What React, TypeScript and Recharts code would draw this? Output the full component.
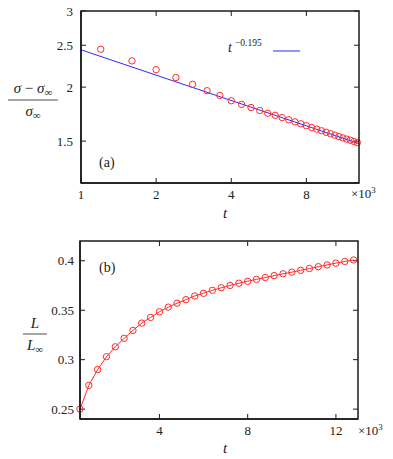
import React from "react";
import { ComposedChart, Line, Scatter, XAxis, YAxis } from "recharts";

// panel (a): relaxation of sigma, log-log
const TOP_T = [1.2, 1.6, 2.0, 2.4, 2.8, 3.2, 3.6, 4.0, 4.4, 4.8, 5.2, 5.6, 6.0, 6.4, 6.8, 7.2, 7.6, 8.0, 8.4, 8.8, 9.2, 9.6, 10.0, 10.4, 10.8, 11.2, 11.6, 12.0, 12.4, 12.8];
const TOP_SIGMA = [2.447, 2.3, 2.195, 2.105, 2.03, 1.962, 1.913, 1.86, 1.824, 1.794, 1.766, 1.74, 1.721, 1.7, 1.681, 1.662, 1.645, 1.629, 1.613, 1.599, 1.585, 1.572, 1.56, 1.548, 1.537, 1.526, 1.516, 1.507, 1.497, 1.488];
const FIT_T = [1, 13];
const FIT_SIGMA = [2.44, 1.48];
const TOP_XDOMAIN = [1, 13];
const TOP_YDOMAIN = [1.2, 3];
const TOP_XTICKS = [1, 2, 4, 8];
const TOP_YTICKS = [1.5, 2, 2.5, 3];

// panel (b): growth of L
const BOT_T = [0.4, 0.8, 1.2, 1.6, 2.0, 2.4, 2.8, 3.2, 3.6, 4.0, 4.4, 4.8, 5.2, 5.6, 6.0, 6.4, 6.8, 7.2, 7.6, 8.0, 8.4, 8.8, 9.2, 9.6, 10.0, 10.4, 10.8, 11.2, 11.6, 12.0, 12.4, 12.8];
const BOT_L = [0.25, 0.274, 0.29, 0.303, 0.313, 0.3216, 0.3296, 0.337, 0.3427, 0.3484, 0.3531, 0.3571, 0.3607, 0.3644, 0.3671, 0.3701, 0.3727, 0.3751, 0.3773, 0.3793, 0.3812, 0.3831, 0.385, 0.3868, 0.3885, 0.3903, 0.3922, 0.394, 0.3958, 0.3976, 0.3993, 0.4008];
const BOT_XDOMAIN = [0.4, 13];
const BOT_YDOMAIN = [0.24, 0.42];
const BOT_XTICKS = [4, 8, 12];
const BOT_YTICKS = [0.25, 0.3, 0.35, 0.4];

const topData = TOP_T.map((t, i) => ({ t, v: TOP_SIGMA[i] }));
const fitData = FIT_T.map((t, i) => ({ t, v: FIT_SIGMA[i] }));
const botData = BOT_T.map((t, i) => ({ t, v: BOT_L[i] }));

// mirrored ticks on the top and right edges, placed through the chart scales
const topTickPts = (ticks: number[], yd: number[]) => ticks.map((t) => ({ t, v: yd[1] }));
const rightTickPts = (ticks: number[], xd: number[]) => ticks.map((v) => ({ t: xd[1], v }));
const topTicksA = topTickPts(TOP_XTICKS, TOP_YDOMAIN);
const rightTicksA = rightTickPts(TOP_YTICKS, TOP_XDOMAIN);
const topTicksB = topTickPts(BOT_XTICKS, BOT_YDOMAIN);
const rightTicksB = rightTickPts(BOT_YTICKS, BOT_XDOMAIN);

const FRAME = "#1a1a1a";
const RED = "#ff2a2a";
const BLUE = "#2a2aff";
const SERIF = "'Liberation Serif', 'Times New Roman', serif";
const tickStyle = { fontSize: 13, fontFamily: SERIF, fill: "#222" };
const axisLine = { stroke: FRAME, strokeWidth: 1.5 };
const tickLine = { stroke: FRAME, strokeWidth: 1 };

// plot boxes (layout, from the chart margins and axis sizes)
const BOX_A = { x: 81, y: 11, w: 278, h: 172 };
const BOX_B = { x: 80, y: 241, w: 278, h: 178 };

const ring = (p: any) => <circle cx={p.cx} cy={p.cy} r={3.2} fill="none" stroke={RED} strokeWidth={1} />;
const downTick = (p: any) => <path d={`M${p.cx},${p.cy}v5`} stroke={FRAME} strokeWidth={1} fill="none" />;
const leftTick = (p: any) => <path d={`M${p.cx},${p.cy}h-5`} stroke={FRAME} strokeWidth={1} fill="none" />;

const boxPath = (b: { x: number; y: number; w: number; h: number }) =>
  `M${b.x},${b.y + b.h}V${b.y}H${b.x + b.w}V${b.y + b.h}Z`;

export default function App() {
  return (
    <div style={{ position: "absolute", left: 0, top: 0, width: 393, height: 459, background: "white" }}>
      <div style={{ position: "absolute", left: 0, top: 0 }}>
        <ComposedChart width={393} height={230} margin={{ top: 11, right: 34, bottom: 0, left: 0 }}>
          <XAxis dataKey="t" type="number" scale="log" domain={TOP_XDOMAIN} ticks={TOP_XTICKS}
            height={47} tickSize={-5} tickMargin={12} tick={tickStyle} axisLine={axisLine} tickLine={tickLine} />
          <YAxis dataKey="v" type="number" scale="log" domain={TOP_YDOMAIN} ticks={TOP_YTICKS}
            width={81} tickSize={-5} tickMargin={13} tick={tickStyle} axisLine={axisLine} tickLine={tickLine} />
          <Scatter data={topTicksA} dataKey="v" shape={downTick} isAnimationActive={false} />
          <Scatter data={rightTicksA} dataKey="v" shape={leftTick} isAnimationActive={false} />
          <Line data={fitData} dataKey="v" stroke={BLUE} strokeWidth={1} dot={false} isAnimationActive={false} />
          <Scatter data={topData} dataKey="v" shape={ring} isAnimationActive={false} />
        </ComposedChart>
      </div>
      <div style={{ position: "absolute", left: 0, top: 230 }}>
        <ComposedChart width={393} height={229} margin={{ top: 11, right: 35, bottom: 0, left: 0 }}>
          <XAxis dataKey="t" type="number" domain={BOT_XDOMAIN} ticks={BOT_XTICKS}
            height={40} tickSize={-5} tickMargin={12} tick={tickStyle} axisLine={axisLine} tickLine={tickLine} />
          <YAxis dataKey="v" type="number" domain={BOT_YDOMAIN} ticks={BOT_YTICKS}
            width={80} tickSize={-5} tickMargin={11} tick={tickStyle} axisLine={axisLine} tickLine={tickLine} />
          <Scatter data={topTicksB} dataKey="v" shape={downTick} isAnimationActive={false} />
          <Scatter data={rightTicksB} dataKey="v" shape={leftTick} isAnimationActive={false} />
          <Line data={botData} dataKey="v" stroke={RED} strokeWidth={1}
            dot={{ r: 3.2, fill: "none", stroke: RED, strokeWidth: 1 }} isAnimationActive={false} />
        </ComposedChart>
      </div>
      <svg width={393} height={459} style={{ position: "absolute", left: 0, top: 0, pointerEvents: "none", zIndex: 5 }}
        fontFamily={SERIF}>
        <path d={boxPath(BOX_A)} fill="none" stroke={FRAME} strokeWidth={1.5} />
        <path d={boxPath(BOX_B)} fill="none" stroke={FRAME} strokeWidth={1.5} />
        <g fill="#222">
          {/* panel (a) labels */}
          <text x={99} y={167} fontSize={14}>(a)</text>
          <text x={228} y={52} fontSize={14} fontStyle="italic">t</text>
          <text x={235} y={46} fontSize={9.5}>−0.195</text>
          <text x={225} y={218} fontSize={15} fontStyle="italic" textAnchor="middle">t</text>
          <text x={351} y={198} fontSize={13}>×10<tspan fontSize={9} dy={-5}>3</tspan></text>
          <text x={33} y={93} fontSize={15} textAnchor="middle">
            <tspan fontStyle="italic">σ</tspan> − <tspan fontStyle="italic">σ</tspan><tspan fontSize={11} dy={3}>∞</tspan>
          </text>
          <text x={33} y={116} fontSize={15} textAnchor="middle">
            <tspan fontStyle="italic">σ</tspan><tspan fontSize={11} dy={3}>∞</tspan>
          </text>
          {/* panel (b) labels */}
          <text x={99} y={272} fontSize={14}>(b)</text>
          <text x={225} y={453} fontSize={15} fontStyle="italic" textAnchor="middle">t</text>
          <text x={358} y={435} fontSize={13}>×10<tspan fontSize={9} dy={-5}>3</tspan></text>
          <text x={35} y={328} fontSize={15} fontStyle="italic" textAnchor="middle">L</text>
          <text x={35} y={350} fontSize={15} textAnchor="middle">
            <tspan fontStyle="italic">L</tspan><tspan fontSize={11} dy={3}>∞</tspan>
          </text>
        </g>
        <line x1={273} x2={300} y1={51} y2={51} stroke={BLUE} strokeWidth={1} />
        <line x1={8} x2={58} y1={100} y2={100} stroke="#222" strokeWidth={0.8} />
        <line x1={23} x2={47} y1={334} y2={334} stroke="#222" strokeWidth={0.8} />
      </svg>
    </div>
  );
}
